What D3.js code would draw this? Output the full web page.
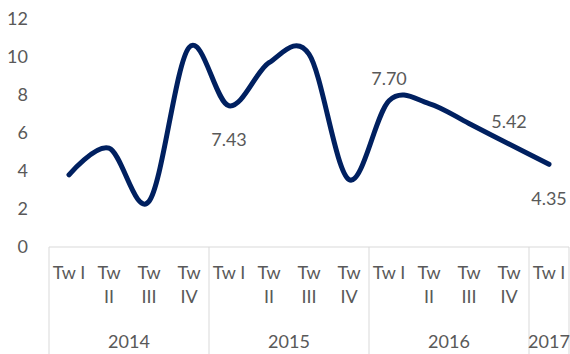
<!DOCTYPE html>
<html lang="en">
<head>
    <meta charset="UTF-8">
    <title>Chart</title>
    <style>
        body { margin: 0; background: #fff; }
        text { font-family: Lato, "Open Sans", sans-serif; fill: #595959; }
    </style>
</head>
<body>

    <svg id="svg" width="570" height="354"></svg>

    <script src="https://d3js.org/d3.v7.min.js"></script>
    <script>
        // data
        const quarters = ['Tw I', 'Tw II', 'Tw III', 'Tw IV', 'Tw I', 'Tw II', 'Tw III', 'Tw IV',
                          'Tw I', 'Tw II', 'Tw III', 'Tw IV', 'Tw I']
        const years = ['2014', '2015', '2016', '2017']
        const yearCounts = [4, 4, 4, 1]
        const values = [3.8, 5.2, 2.4, 10.5, 7.43, 9.7, 10.15, 3.55, 7.70, 7.55, 6.5, 5.42, 4.35]
        const yTicks = [0, 2, 4, 6, 8, 10, 12]
        // which points carry a value label, and where it sits
        const labelled = [4, 8, 11, 12]
        const labelSide = ['below', 'above', 'above', 'below']

        const svg = d3.select('#svg')

        const xScale = d3.scaleBand()
            .domain(d3.range(values.length))
            .range([49, 569])

        const yScale = d3.scaleLinear()
            .domain([0, 12])
            .range([247, 19])

        // y labels, no axis line
        svg.selectAll('.ylab')
            .data(yTicks)
            .enter()
            .append('text')
            .attr('x', 28)
            .attr('y', d => yScale(d))
            .attr('dy', '0.35em')
            .attr('text-anchor', 'end')
            .style('font-size', '18px')
            .text(d => d)

        // category box
        const axisY = yScale(0)
        svg.append('line')
            .attr('x1', 49).attr('x2', 569)
            .attr('y1', axisY).attr('y2', axisY)
            .attr('stroke', '#d9d9d9')

        const starts = [0]
        yearCounts.forEach((c, i) => starts.push(starts[i] + c))

        svg.selectAll('.sep')
            .data(starts)
            .enter()
            .append('line')
            .attr('x1', d => d < values.length ? xScale(d) : xScale.range()[1])
            .attr('x2', d => d < values.length ? xScale(d) : xScale.range()[1])
            .attr('y1', axisY)
            .attr('y2', 354)
            .attr('stroke', '#d9d9d9')

        // quarter labels, wrapped like the original
        const qLab = svg.selectAll('.qlab')
            .data(quarters)
            .enter()
            .append('text')
            .attr('text-anchor', 'middle')
            .style('font-size', '18px')

        qLab.each(function(d, i) {
            const cx = xScale(i) + xScale.bandwidth() / 2
            const parts = d === 'Tw I' ? [d] : ['Tw', d.slice(3)]
            d3.select(this).selectAll('tspan')
                .data(parts)
                .enter()
                .append('tspan')
                .attr('x', cx)
                .attr('y', (p, j) => 279 + j * 24)
                .text(p => p)
        })

        svg.selectAll('.yearlab')
            .data(years)
            .enter()
            .append('text')
            .attr('x', (d, i) => {
                const a = xScale(starts[i])
                const b = starts[i + 1] < values.length ? xScale(starts[i + 1]) : xScale.range()[1]
                return (a + b) / 2
            })
            .attr('y', 348)
            .attr('text-anchor', 'middle')
            .style('font-size', '18px')
            .text(d => d)

        // smoothed line
        const line = d3.line()
            .x((d, i) => xScale(i) + xScale.bandwidth() / 2)
            .y(d => yScale(d))
            .curve(d3.curveCardinal.tension(0))

        svg.append('path')
            .datum(values)
            .attr('d', line)
            .attr('fill', 'none')
            .attr('stroke', '#002060')
            .attr('stroke-width', 5)
            .attr('stroke-linecap', 'round')
            .attr('stroke-linejoin', 'round')

        // value labels
        svg.selectAll('.vlab')
            .data(labelled)
            .enter()
            .append('text')
            .attr('x', d => xScale(d) + xScale.bandwidth() / 2)
            .attr('y', (d, k) => yScale(values[d]) + (labelSide[k] === 'above' ? -22 : 34))
            .attr('dy', '0.35em')
            .attr('text-anchor', 'middle')
            .style('font-size', '18px')
            .text(d => values[d].toFixed(2))
    </script>
</body>
</html>
